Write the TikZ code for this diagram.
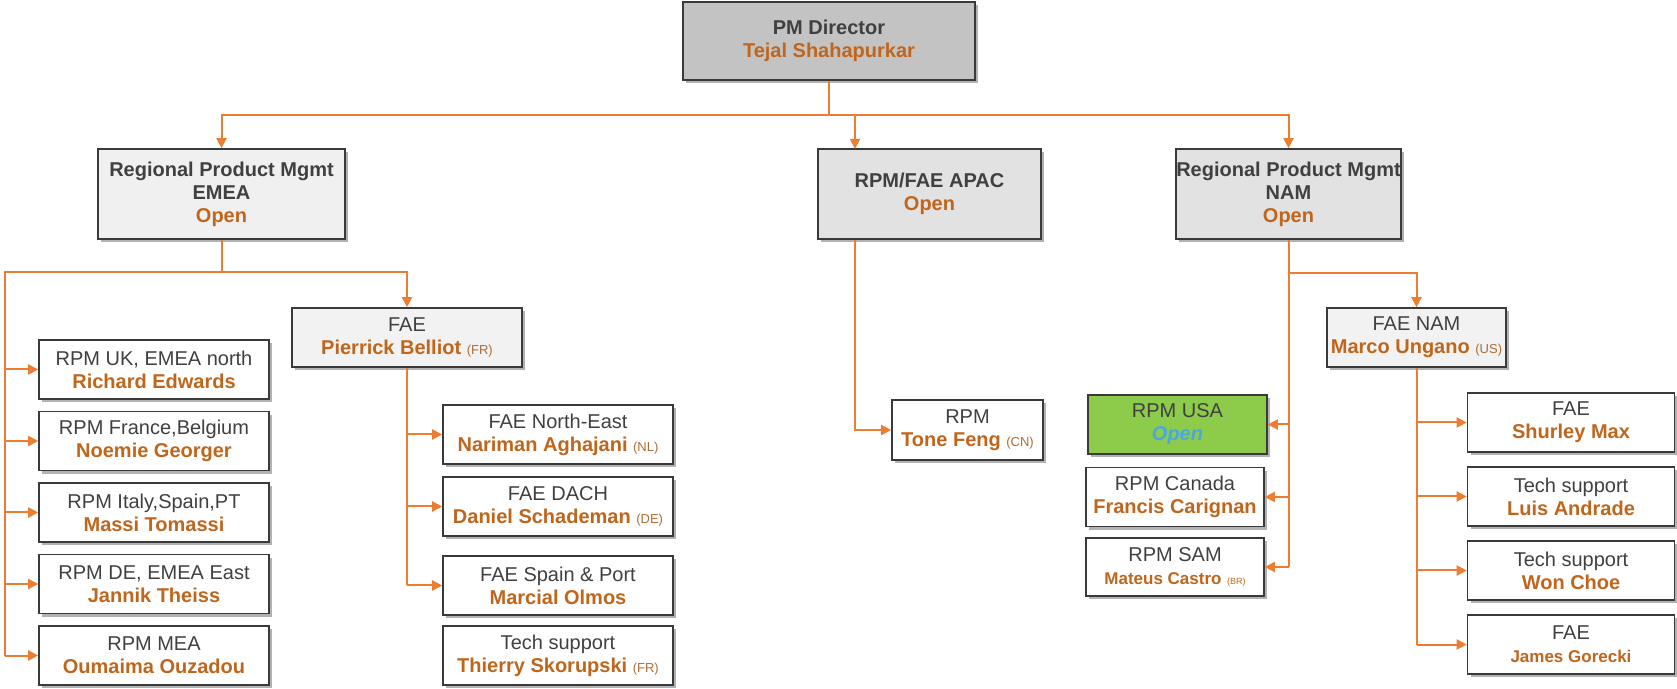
\documentclass[tikz,border=0pt]{standalone}
\usepackage{fontspec}
\setmainfont{Liberation Sans}
\usepackage{xcolor}
\usepackage{tikz}
\usetikzlibrary{arrows.meta, positioning, shadows}

\definecolor{lineor}{HTML}{ED7D31}
\definecolor{nameor}{HTML}{C0661C}
\definecolor{titlegray}{HTML}{404040}
\definecolor{boxline}{HTML}{3A3A3A}
\definecolor{pmfill}{HTML}{C3C3C3}
\definecolor{regfill}{HTML}{E2E2E2}
\definecolor{emeafill}{HTML}{F0F0F0}
\definecolor{faefill}{HTML}{F2F2F2}
\definecolor{usagreen}{HTML}{8DCB4A}
\definecolor{openblue}{HTML}{4AA8E0}

\newcommand{\who}[1]{{\bfseries\color{nameor}#1}}
\newcommand{\ctry}[1]{{\fontsize{6.5}{7}\selectfont\color{nameor!75!gray}#1}}
\newcommand{\smallwho}[1]{{\fontsize{8.5}{10}\selectfont\bfseries\color{nameor}#1}}

\begin{document}
\begin{tikzpicture}[
    x=0.5pt, y=-0.5pt,
    box/.style={draw=boxline, line width=0.8pt, align=center, inner xsep=0pt, inner ysep=1pt,
      text=titlegray, font=\fontsize{10}{11.5}\selectfont,
      drop shadow={shadow xshift=1.6pt, shadow yshift=-1.6pt, opacity=0.3, fill=black}},
    head/.style={box, fill=pmfill, minimum width=146pt, minimum height=39pt},
    region/.style={box, minimum height=45pt},
    fae/.style={box, fill=faefill, minimum height=29.5pt},
    leaf/.style={box, fill=white, minimum height=29.5pt},
    conn/.style={draw=lineor, line width=1pt},
    arr/.style={conn, -{Triangle[length=5pt, width=5pt]}}
  ]
  \useasboundingbox (0,0) rectangle (1677,689);

  % top levels
  \node[head] (pm) at (829,41) {\bfseries PM Director\\\who{Tejal Shahapurkar}};
  \node[region, fill=emeafill, minimum width=123.5pt] (emea) at (221.5,194)
    {\bfseries Regional Product Mgmt\\\bfseries EMEA\\\who{Open}};
  \node[region, fill=regfill, minimum width=111.5pt] (apac) at (929.5,194)
    {\bfseries RPM/FAE APAC\\\who{Open}};
  \node[region, fill=regfill, minimum width=112.5pt] (nam) at (1288.5,194)
    {\bfseries Regional Product Mgmt\\\bfseries NAM\\\who{Open}};

  % EMEA
  \node[fae, minimum width=115pt] (faeeu) at (407,337.5) {FAE\\\who{Pierrick Belliot} \ctry{(FR)}};
  \node[leaf, minimum width=115pt] (uk) at (154,369.5) {RPM UK, EMEA north\\\who{Richard Edwards}};
  \node[leaf, minimum width=115pt, below=5.45pt of uk] (fr) {RPM France,Belgium\\\who{Noemie Georger}};
  \node[leaf, minimum width=115pt, below=5.45pt of fr] (it) {RPM Italy,Spain,PT\\\who{Massi Tomassi}};
  \node[leaf, minimum width=115pt, below=5.45pt of it] (de) {RPM DE, EMEA East\\\who{Jannik Theiss}};
  \node[leaf, minimum width=115pt, below=5.45pt of de] (mea) {RPM MEA\\\who{Oumaima Ouzadou}};

  \node[leaf, minimum width=115pt] (ne) at (558,434.5) {FAE North-East\\\who{Nariman Aghajani} \ctry{(NL)}};
  \node[leaf, minimum width=115pt, below=5.7pt of ne] (dach) {FAE DACH\\\who{Daniel Schademan} \ctry{(DE)}};
  \node[leaf, minimum width=115pt, below=9.2pt of dach] (spain) {FAE Spain \& Port\\\who{Marcial Olmos}};
  \node[leaf, minimum width=115pt, below=4.7pt of spain] (skor) {Tech support\\\who{Thierry Skorupski} \ctry{(FR)}};

  % APAC
  \node[leaf, minimum width=75.5pt, minimum height=30pt] (tone) at (967.5,430) {RPM\\\who{Tone Feng} \ctry{(CN)}};

  % NAM
  \node[leaf, fill=usagreen, minimum width=89.5pt] (usa) at (1177.5,424.5)
    {RPM USA\\{\bfseries\itshape\color{openblue}Open}};
  \node[leaf, minimum width=89pt] (canada) at (1175,497) {RPM Canada\\\who{Francis Carignan}};
  \node[leaf, minimum width=89pt, minimum height=29pt] (sam) at (1175,567)
    {RPM SAM\\\smallwho{Mateus Castro} {\fontsize{4.5}{5}\selectfont\color{nameor}(BR)}};

  \node[fae, minimum width=89.5pt] (faenam) at (1416.5,337.5) {FAE NAM\\\who{Marco Ungano} \ctry{(US)}};
  \node[leaf, minimum width=103.5pt] (max) at (1571,422.5) {FAE\\\who{Shurley Max}};
  \node[leaf, minimum width=103.5pt, below=6.7pt of max] (andrade) {Tech support\\\who{Luis Andrade}};
  \node[leaf, minimum width=103.5pt, below=6.7pt of andrade] (choe) {Tech support\\\who{Won Choe}};
  \node[leaf, minimum width=103.5pt, below=6.7pt of choe] (gorecki) {FAE\\\smallwho{James Gorecki}};

  % connectors
  \coordinate (bus) at (829,115);
  \coordinate (apacin) at (855,149);
  \coordinate (ebus) at (221.5,272);
  \coordinate (etrunk) at (5,272);
  \coordinate (nbus) at (1288.5,273);

  \draw[conn] (pm.south) -- (bus);
  \draw[arr] (bus) -| (emea.north);
  \draw[arr] (bus) -| (apacin);
  \draw[arr] (bus) -| (nam.north);

  \draw[arr] (apac.south -| apacin) |- (tone.west);

  \draw[conn] (emea.south) -- (ebus) -- (etrunk) -- (etrunk |- mea.west);
  \draw[arr] (ebus) -| (faeeu.north);
  \foreach \n in {uk, fr, it, de, mea}
    \draw[arr] (etrunk |- \n.west) -- (\n.west);

  \draw[conn] (faeeu.south) -- (faeeu.south |- spain.west);
  \foreach \n in {ne, dach, spain}
    \draw[arr] (faeeu.south |- \n.west) -- (\n.west);

  \draw[conn] (nam.south) -- (nam.south |- sam.east);
  \draw[arr] (nbus) -| (faenam.north);
  \foreach \n in {usa, canada, sam}
    \draw[arr] (nam.south |- \n.east) -- (\n.east);

  \draw[conn] (faenam.south) -- (faenam.south |- gorecki.west);
  \foreach \n in {max, andrade, choe, gorecki}
    \draw[arr] (faenam.south |- \n.west) -- (\n.west);
\end{tikzpicture}
\end{document}
